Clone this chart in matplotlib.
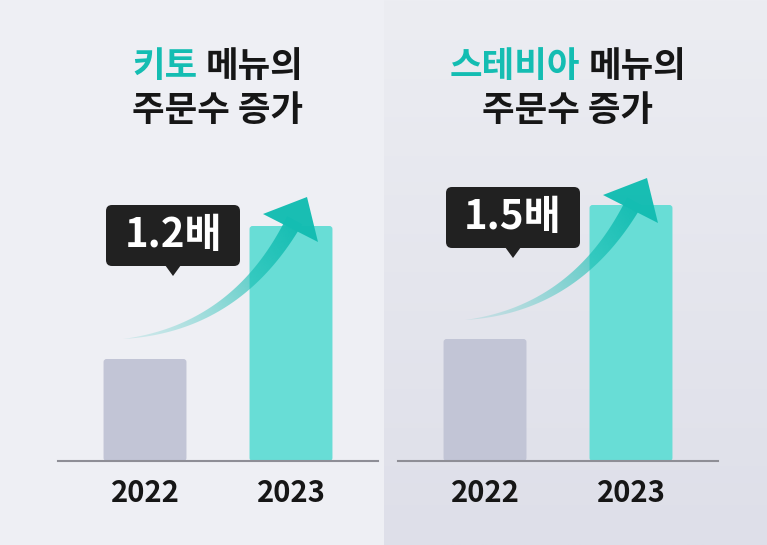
import numpy as np
import matplotlib
matplotlib.use("Agg")
import matplotlib.pyplot as plt
import matplotlib.colors as mcolors
from matplotlib.patches import FancyBboxPatch, Polygon

plt.rcParams['font.family'] = ['Noto Sans CJK KR', 'DejaVu Sans']

# data
years = ['2022', '2023']
keto_orders = [102, 235]
stevia_orders = [122, 256]
menu_names = ['키토', '스테비아']
growth_labels = ['1.2배', '1.5배']

W, H = 767, 545
TEAL = '#14bdb2'
BAR_GRAY = '#c2c5d6'
BAR_TEAL = '#68ddd6'
DARK = '#161616'
BOX = '#212121'

fig = plt.figure(figsize=(W / 100, H / 100), dpi=100)
fig.patch.set_facecolor('#eeeff4')

# background, right panel is a bit darker towards the bottom
bg = fig.add_axes([0, 0, 1, 1], zorder=0)
grad = np.linspace(0, 1, 200)[:, None, None]
c_top = np.array(mcolors.to_rgb('#ecedf2'))
c_bot = np.array(mcolors.to_rgb('#dedfe9'))
bg.imshow(c_top + (c_bot - c_top) * grad, extent=(384, W, H, 0), aspect='auto')
bg.set_xlim(0, W)
bg.set_ylim(H, 0)
bg.axis('off')


def bar_panel(x0, values):
    ax = fig.add_axes([x0 / W, (H - 461) / H, 320 / W, 311 / H], zorder=1)
    ax.set_facecolor('none')
    bars = ax.bar(range(len(values)), values, width=0.568, color=[BAR_GRAY, BAR_TEAL])
    # rounded tops: 1 x-unit is 146 px, 1 y-unit is 1 px
    for b in bars:
        b.set_visible(False)
        ax.add_patch(FancyBboxPatch((b.get_x(), b.get_y()), b.get_width(), b.get_height(),
                                    boxstyle='round,pad=0,rounding_size=%f' % (3 / 146),
                                    mutation_aspect=146, fc=b.get_facecolor(), ec='none'))
    ax.set_xlim(-0.596, 1.596)
    ax.set_ylim(0, 311)
    for s in ['top', 'left', 'right']:
        ax.spines[s].set_visible(False)
    ax.spines['bottom'].set_color('#8e8e96')
    ax.spines['bottom'].set_linewidth(1.5)
    ax.spines['bottom'].set_zorder(5)
    ax.set_yticks([])
    ax.set_xticks(range(len(years)))
    ax.set_xticklabels(years, fontsize=21, fontweight='bold', color=DARK)
    ax.tick_params(axis='x', length=0, pad=12)
    return ax


bar_panel(58, keto_orders)
bar_panel(398, stevia_orders)

# overlay in pixel coordinates
ov = fig.add_axes([0, 0, 1, 1], zorder=3)
ov.set_facecolor('none')
ov.set_xlim(0, W)
ov.set_ylim(H, 0)
ov.axis('off')
renderer = fig.canvas.get_renderer()

TFS = 25.5


def title(cx, menu):
    full = ov.text(0, 66, menu + ' 메뉴의', fontsize=TFS, fontweight='heavy', va='center')
    rest = ov.text(0, 66, '메뉴의', fontsize=TFS, fontweight='heavy', va='center', color=DARK)
    wf = full.get_window_extent(renderer).width
    wr = rest.get_window_extent(renderer).width
    full.remove()
    x0 = cx - wf / 2
    ov.text(x0, 66, menu, fontsize=TFS, fontweight='heavy', va='center', color=TEAL)
    rest.set_x(x0 + wf - wr)
    ov.text(cx, 111, '주문수 증가', fontsize=TFS, fontweight='heavy', va='center',
            ha='center', color=DARK)


def callout(x0, y0, x1, y1, text):
    ov.add_patch(FancyBboxPatch((x0, y0), x1 - x0, y1 - y0,
                                boxstyle='round,pad=0,rounding_size=6', fc=BOX, ec='none'))
    tx = (x0 + x1) / 2
    ov.add_patch(Polygon([(tx - 8, y1 - 1), (tx + 8, y1 - 1), (tx, y1 + 10)],
                         closed=True, fc=BOX, ec='none'))
    ov.text(tx, (y0 + y1) / 2, text, fontsize=29, fontweight='heavy', color='white',
            ha='center', va='center')


def growth_arrow(tail, ctrl, tip, barb1, barb2, wmax=17):
    tail, ctrl, tip = np.array(tail), np.array(ctrl), np.array(tip)
    b1, b2 = np.array(barb1), np.array(barb2)
    mid = (b1 + b2) / 2
    neck = mid + 0.25 * (tip - mid)
    t = np.linspace(0, 1, 100)[:, None]
    pts = (1 - t) ** 2 * tail + 2 * (1 - t) * t * ctrl + t ** 2 * neck
    d = 2 * (1 - t) * (ctrl - tail) + 2 * t * (neck - ctrl)
    n = np.column_stack([-d[:, 1], d[:, 0]])
    n /= np.linalg.norm(n, axis=1)[:, None]
    w = wmax * t / 2
    shaft = np.vstack([pts + n * w, (pts - n * w)[::-1]])
    poly = Polygon(shaft, closed=True, fc='none', ec='none')
    ov.add_patch(poly)
    # gradient along tail -> tip
    xmin, ymin = shaft.min(axis=0) - 2
    xmax, ymax = shaft.max(axis=0) + 2
    xs = np.linspace(xmin, xmax, 300)
    ys = np.linspace(ymin, ymax, 300)
    X, Y = np.meshgrid(xs, ys)
    v = neck - tail
    p = np.clip(((X - tail[0]) * v[0] + (Y - tail[1]) * v[1]) / (v @ v), 0, 1)
    rgba = np.zeros(X.shape + (4,))
    rgba[..., :3] = mcolors.to_rgb(TEAL)
    rgba[..., 3] = 0.14 + 0.84 * p ** 1.4
    im = ov.imshow(rgba, extent=(xmin, xmax, ymax, ymin), origin='upper',
                   aspect='auto', interpolation='bilinear', zorder=2)
    im.set_clip_path(poly)
    ov.add_patch(Polygon([tip, b1, b2], closed=True, fc=TEAL, ec='none', alpha=0.98, zorder=3))


title(218, menu_names[0])
title(568, menu_names[1])

growth_arrow((123, 339), (237, 328), (307, 197), (263, 214), (318, 242))
growth_arrow((465, 320), (577, 309), (647, 178), (603, 195), (658, 223))

callout(106, 205, 240, 266, growth_labels[0])
callout(446, 187, 580, 248, growth_labels[1])

ov.set_xlim(0, W)
ov.set_ylim(H, 0)

fig.savefig('out.png', dpi=100)
